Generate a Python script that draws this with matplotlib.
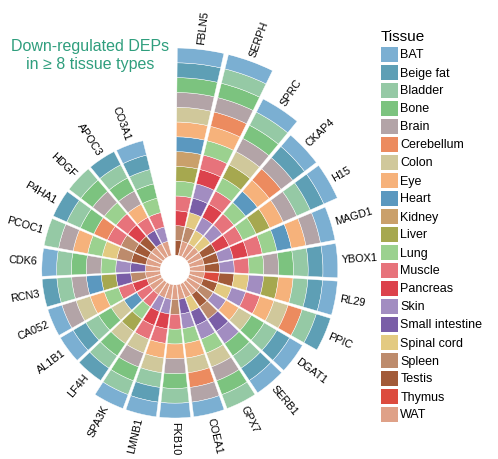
import numpy as np
import matplotlib.pyplot as plt
from matplotlib.patches import Patch

plt.rcParams['font.family'] = ['Liberation Sans', 'DejaVu Sans']

tissues = ["BAT", "Beige fat", "Bladder", "Bone", "Brain", "Cerebellum", "Colon",
           "Eye", "Heart", "Kidney", "Liver", "Lung", "Muscle", "Pancreas", "Skin",
           "Small intestine", "Spinal cord", "Spleen", "Testis", "Thymus", "WAT"]
tissue_colors = ["#7bafd2", "#5e9fb5", "#95c9a5", "#7cc37f", "#b3a4a7", "#ec8b5f",
                 "#d0c89b", "#f6b27b", "#5b98bf", "#caa06b", "#a6a84f", "#9bd18f",
                 "#e7737b", "#dc424c", "#a28dc1", "#7a5ea7", "#e3ca81", "#bd8b6c",
                 "#a25a38", "#dc4b3e", "#dfa188"]

genes = ["FBLN5", "SERPH", "SPRC", "CKAP4", "H15", "MAGD1", "YBOX1", "RL29", "PPIC",
         "DGAT1", "SERB1", "GPX7", "COEA1", "FKB10", "LMNB1", "SPA3K", "LF4H",
         "AL1B1", "CA052", "RCN3", "CDK6", "PCOC1", "P4HA1", "HDGF", "APOC3", "CO3A1"]

# tissues in which each gene is down-regulated
down_in = [
    ["BAT", "Beige fat", "Bone", "Brain", "Colon", "Eye", "Heart", "Kidney", "Liver", "Lung", "Muscle", "Pancreas", "Spleen", "Testis"],
    ["BAT", "Bladder", "Bone", "Brain", "Cerebellum", "Eye", "Lung", "Muscle", "Pancreas", "Skin", "Small intestine", "Spinal cord", "Spleen", "WAT"],
    ["BAT", "Bladder", "Bone", "Brain", "Colon", "Liver", "Lung", "Muscle", "Pancreas", "Skin", "Spinal cord", "WAT"],
    ["BAT", "Beige fat", "Brain", "Cerebellum", "Eye", "Heart", "Lung", "Muscle", "Skin", "Spinal cord", "WAT"],
    ["BAT", "Beige fat", "Bladder", "Brain", "Eye", "Liver", "Lung", "Muscle", "Pancreas", "Testis", "WAT"],
    ["BAT", "Brain", "Eye", "Heart", "Lung", "Muscle", "Pancreas", "Skin", "Testis", "WAT"],
    ["BAT", "Beige fat", "Bladder", "Bone", "Brain", "Lung", "Muscle", "Skin", "Testis", "WAT"],
    ["BAT", "Beige fat", "Bladder", "Eye", "Liver", "Skin", "Spinal cord", "Testis", "Thymus", "WAT"],
    ["Beige fat", "Bladder", "Cerebellum", "Colon", "Eye", "Muscle", "Skin", "Spinal cord", "Testis", "WAT"],
    ["BAT", "Beige fat", "Bladder", "Bone", "Colon", "Eye", "Skin", "Spleen", "WAT"],
    ["BAT", "Beige fat", "Bladder", "Bone", "Skin", "Small intestine", "Spleen", "Testis", "WAT"],
    ["Bladder", "Bone", "Brain", "Colon", "Lung", "Skin", "Small intestine", "Spinal cord", "WAT"],
    ["BAT", "Brain", "Cerebellum", "Colon", "Eye", "Lung", "Skin", "Small intestine", "WAT"],
    ["BAT", "Bladder", "Bone", "Brain", "Eye", "Lung", "Muscle", "Spleen", "WAT"],
    ["BAT", "Beige fat", "Bladder", "Colon", "Eye", "Muscle", "Pancreas", "Skin", "WAT"],
    ["BAT", "Bladder", "Bone", "Brain", "Colon", "Muscle", "Pancreas", "Skin", "WAT"],
    ["Beige fat", "Bladder", "Bone", "Colon", "Liver", "Lung", "Muscle", "WAT"],
    ["BAT", "Beige fat", "Bladder", "Bone", "Colon", "Heart", "Muscle", "WAT"],
    ["BAT", "Brain", "Colon", "Eye", "Lung", "Muscle", "Pancreas", "WAT"],
    ["Beige fat", "Bladder", "Brain", "Heart", "Liver", "Small intestine", "Spleen", "WAT"],
    ["BAT", "Bladder", "Bone", "Brain", "Lung", "Skin", "Small intestine", "WAT"],
    ["Bladder", "Brain", "Eye", "Lung", "Spinal cord", "Spleen", "Testis", "WAT"],
    ["Beige fat", "Bladder", "Bone", "Cerebellum", "Muscle", "Spleen", "Testis", "WAT"],
    ["Bladder", "Bone", "Brain", "Lung", "Muscle", "Pancreas", "Testis", "WAT"],
    ["Beige fat", "Bladder", "Bone", "Brain", "Eye", "Muscle", "Small intestine", "WAT"],
    ["BAT", "Beige fat", "Bladder", "Bone", "Lung", "Muscle", "Skin", "WAT"],
]

color_of = dict(zip(tissues, tissue_colors))

W, H = 498, 459
fig = plt.figure(figsize=(W / 100, H / 100), dpi=100)
cx, cy, R = 175, 270, 222
ax = fig.add_axes([(cx - R) / W, (H - cy - R) / H, 2 * R / W, 2 * R / H], projection="polar")
ax.set_theta_zero_location("N")
ax.set_theta_direction(-1)

n_slots = len(genes) + 1  # one empty slot before the first gene
slot = 2 * np.pi / n_slots
rmax = max(len(t) for t in down_in)

for i, (g, ts) in enumerate(zip(genes, down_in)):
    theta = (i + 0.5) * slot
    present = [t for t in tissues if t in ts]
    bottom = 0
    for t in reversed(present):
        ax.bar(theta, 1, width=slot * 0.91, bottom=bottom, color=color_of[t],
               edgecolor="white", linewidth=0.3)
        bottom += 1
    deg = np.degrees(theta)
    if deg <= 180.001:
        rot, ha = 90 - deg, "left"
    else:
        rot, ha = 270 - deg, "right"
    ax.text(theta, bottom + 0.3, g, rotation=rot, rotation_mode="anchor",
            ha=ha, va="center", fontsize=7.8)

ax.set_rorigin(-1)
ax.set_ylim(0, rmax)
ax.axis("off")

fig.text(90 / W, 1 - 55 / H, "Down-regulated DEPs\nin ≥ 8 tissue types", ha="center",
         va="center", fontsize=11.5, color="#2f9e7d", linespacing=1.25)

handles = [Patch(facecolor=c) for c in tissue_colors]
fig.legend(handles, tissues, loc="upper left", bbox_to_anchor=(381 / W, 1 - 30 / H),
           frameon=False, title="Tissue", fontsize=9, title_fontsize=11,
           handlelength=1.34, handleheight=1.5, handletextpad=0.2,
           labelspacing=0.22, borderpad=0, borderaxespad=0, alignment="left")

fig.savefig("out.png", dpi=100)
